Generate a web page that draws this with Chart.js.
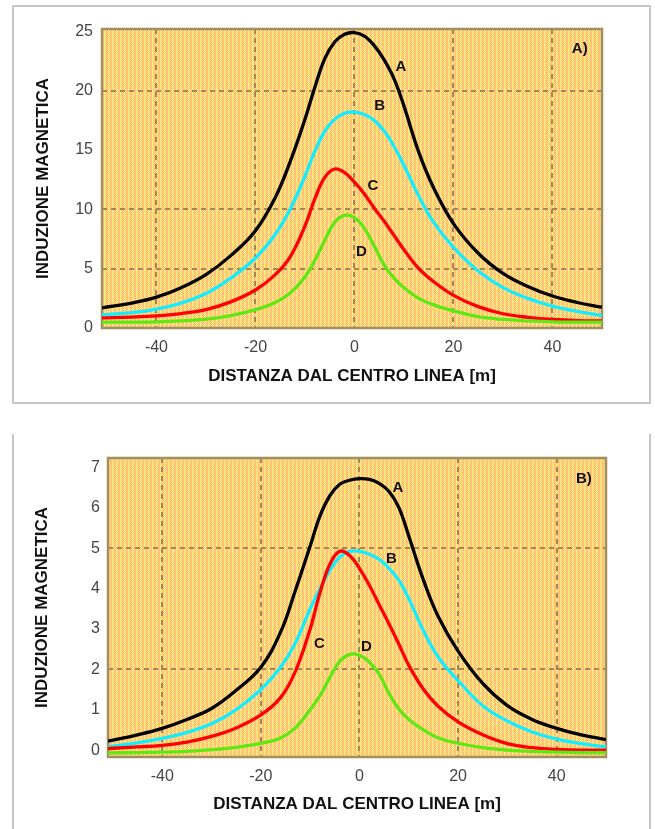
<!DOCTYPE html>
<html>
<head>
<meta charset="utf-8">
<script src="https://cdn.jsdelivr.net/npm/chart.js@4.4.1/dist/chart.umd.min.js"></script>
<style>
body { margin:0; background:#fff; width:655px; height:829px; overflow:hidden; position:relative; }
.box { position:absolute; box-sizing:border-box; }
#boxA { left:12px; top:5px; width:639px; height:399px; border:2px solid #c6c6c6; }
#boxB { left:12px; top:434px; width:639px; height:420px; border:2px solid #c6c6c6; border-top:none; }
canvas { position:absolute; left:0; }
#chartA { top:0; }
#chartB { top:420px; }
</style>
</head>
<body>
<div class="box" id="boxA"></div>
<div class="box" id="boxB"></div>
<canvas id="chartA" width="655" height="410"></canvas>
<canvas id="chartB" width="655" height="409"></canvas>
<script>
// distance from line centre [m], shared by every curve
const xs = [-51,-45,-40,-35,-30,-25,-20,-16,-13,-10,-8,-6,-4,-2,0,2,4,6,8,10,13,16,20,25,30,35,40,45,50]

// panel A)
const aCurveA = [1.7,2.1,2.6,3.4,4.5,6.1,8.2,11.0,14.0,17.6,20.3,22.7,24.1,24.75,24.9,24.6,23.8,22.6,21.0,18.7,14.8,11.8,8.8,6.3,4.6,3.5,2.7,2.15,1.75]
const aCurveB = [1.1,1.3,1.6,2.1,2.9,4.2,5.9,7.9,10.0,12.8,14.9,16.6,17.6,18.1,18.2,18.0,17.5,16.6,15.3,13.7,11.1,8.9,6.8,4.8,3.4,2.5,1.85,1.4,1.05]
const aCurveC = [0.85,0.92,1.02,1.22,1.55,2.2,3.2,4.5,6.0,8.6,10.9,12.7,13.4,13.1,12.3,11.3,10.1,9.0,7.8,6.6,5.0,3.9,2.75,1.8,1.2,0.9,0.72,0.63,0.6]
const aCurveD = [0.5,0.5,0.52,0.6,0.75,1.05,1.55,2.15,2.95,4.3,5.7,7.4,8.9,9.5,9.3,8.4,6.9,5.3,4.2,3.4,2.5,1.95,1.45,0.95,0.72,0.6,0.52,0.5,0.5]

// panel B)
const bCurveA = [0.22,0.38,0.54,0.76,1.03,1.48,2.05,2.92,3.95,5.05,5.8,6.3,6.58,6.68,6.72,6.7,6.6,6.4,6.0,5.3,4.2,3.3,2.45,1.65,1.1,0.76,0.54,0.38,0.26]
const bCurveB = [0.08,0.18,0.29,0.44,0.65,1.0,1.5,2.05,2.65,3.5,4.0,4.45,4.78,4.92,4.92,4.85,4.72,4.5,4.2,3.75,2.95,2.3,1.72,1.1,0.72,0.45,0.27,0.16,0.08]
const bCurveC = [0.04,0.08,0.12,0.2,0.34,0.55,0.87,1.3,1.95,3.0,3.9,4.6,4.92,4.82,4.5,4.08,3.6,3.12,2.62,2.1,1.5,1.08,0.7,0.38,0.16,0.06,0.02,0,0]
const bCurveD = [-0.07,-0.06,-0.05,-0.03,0.01,0.07,0.17,0.3,0.55,1.0,1.35,1.8,2.2,2.37,2.35,2.18,1.88,1.4,1.02,0.76,0.5,0.3,0.17,0.06,0,-0.03,-0.05,-0.06,-0.06]

const xTicks = [-40,-20,0,20,40]
const yTicksA = [0,5,10,15,20,25]
const yGridA = [5,10,20]
const yTicksB = [0,1,2,3,4,5,6,7]
const yGridB = [2,5]

// curve names and where they sit (data units)
const curveNames = ['A','B','C','D']
const nameXA = [9.4,5.1,3.7,1.4]
const nameYA = [22.0,18.7,12.0,6.4]
const nameXB = [7.8,6.5,-8.1,1.4]
const nameYB = [6.49,4.74,2.62,2.56]

const colors = ['#000000','#14ecff','#ff0000','#5ee814']
const fam = '"Liberation Sans", Arial, sans-serif'

function dither(ctx) {
	const c = document.createElement('canvas')
	c.width = 4; c.height = 2
	const g = c.getContext('2d')
	const rows = [['#ffff80','#ffc060','#ffc890','#ffc060'],['#ffc890','#ffff80','#ffc060','#ffc890']]
	rows.forEach((row, y) => row.forEach((col, x) => { g.fillStyle = col; g.fillRect(x, y, 1, 1) }))
	return ctx.createPattern(c, 'repeat')
}

const plotDecor = {
	id: 'plotDecor',
	beforeDraw(chart) {
		const {ctx, chartArea: a} = chart
		ctx.save()
		ctx.fillStyle = dither(ctx)
		ctx.fillRect(a.left, a.top, a.right - a.left, a.bottom - a.top)
		ctx.restore()
	},
	beforeDatasetsDraw(chart) {
		const {ctx, chartArea: a} = chart
		ctx.save()
		ctx.strokeStyle = '#a09060'
		ctx.lineWidth = 2.5
		ctx.strokeRect(a.left, a.top, a.right - a.left, a.bottom - a.top)
		ctx.restore()
	},
	afterDatasetsDraw(chart, args, opts) {
		const {ctx, scales: {x, y}} = chart
		ctx.save()
		ctx.fillStyle = '#111'
		ctx.textAlign = 'center'
		ctx.textBaseline = 'middle'
		ctx.font = 'bold 15px ' + fam
		opts.names.forEach((n, i) => {
			ctx.fillText(n, x.getPixelForValue(opts.nx[i]), y.getPixelForValue(opts.ny[i]))
		})
		ctx.fillText(opts.panel, x.getPixelForValue(45.5), y.getPixelForValue(opts.panelY))
		ctx.restore()
	}
}

function series(vals) {
	return xs.map((x, i) => ({x: x, y: vals[i]}))
}

function buildChart(id, curves, cfg) {
	const datasets = curves.map((vals, i) => ({
		label: curveNames[i],
		data: series(vals),
		borderColor: colors[i],
		borderWidth: 3.3,
		pointRadius: 0,
		fill: false,
		tension: 0.4,
		order: 4 - i
	}))
	return new Chart(document.getElementById(id), {
		type: 'line',
		data: {datasets},
		plugins: [plotDecor],
		options: {
			responsive: false,
			animation: false,
			layout: {padding: {left: 0, top: cfg.top, right: cfg.right, bottom: 0}},
			plugins: {
				legend: {display: false},
				tooltip: {enabled: false},
				plotDecor: {names: curveNames, nx: cfg.nx, ny: cfg.ny, panel: cfg.panel, panelY: cfg.panelY}
			},
			scales: {
				x: {
					type: 'linear', min: -51, max: 50,
					afterBuildTicks: s => { s.ticks = xTicks.map(v => ({value: v})) },
					afterFit: s => { s.height = cfg.xH },
					grid: {color: '#a08858', lineWidth: 2, drawTicks: false},
					border: {display: false, dash: [5, 4]},
					ticks: {padding: 10, color: '#444', font: {family: fam, size: 16}, maxRotation: 0, autoSkip: false},
					title: {display: true, text: 'DISTANZA DAL CENTRO LINEA [m]', color: '#111',
						font: {family: fam, size: 17, weight: 'bold'}, padding: {top: 0, bottom: cfg.xTitlePad}}
				},
				y: {
					type: 'linear', min: cfg.yMin, max: cfg.yMax,
					afterBuildTicks: s => { s.ticks = cfg.yTicks.map(v => ({value: v})) },
					afterFit: s => { s.width = cfg.yW },
					grid: {
						color: c => cfg.yGrid.includes(c.tick.value) ? '#a08858' : 'rgba(0,0,0,0)',
						lineWidth: 2, drawTicks: false
					},
					border: {display: false, dash: [5, 4]},
					ticks: {padding: cfg.yPad, color: '#444', font: {family: fam, size: 16}},
					title: {display: true, text: 'INDUZIONE MAGNETICA', color: '#111',
						font: {family: fam, size: 17, weight: 'bold'}, padding: {top: cfg.yTitlePad, bottom: 0}}
				}
			}
		}
	})
}

buildChart('chartA', [aCurveA, aCurveB, aCurveC, aCurveD], {
	top: 29, right: 53, xH: 82, yW: 102, yMin: 0, yMax: 25.2,
	yTicks: yTicksA, yGrid: yGridA, yPad: 9, xTitlePad: 23, yTitlePad: 33,
	nx: nameXA, ny: nameYA, panel: 'A)', panelY: 23.5
})

buildChart('chartB', [bCurveA, bCurveB, bCurveC, bCurveD], {
	top: 38, right: 49, xH: 72, yW: 108, yMin: -0.17, yMax: 7.23,
	yTicks: yTicksB, yGrid: yGridB, yPad: 8, xTitlePad: 14, yTitlePad: 32,
	nx: nameXB, ny: nameYB, panel: 'B)', panelY: 6.72
})
</script>
</body>
</html>
